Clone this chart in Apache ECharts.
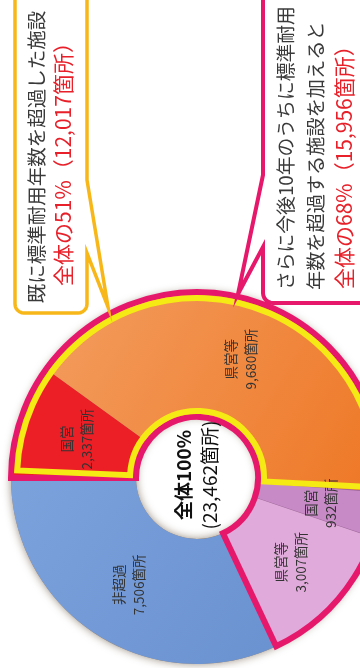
<!DOCTYPE html>
<html>
<head>
<meta charset="utf-8">
<script src="https://cdn.jsdelivr.net/npm/echarts@6/dist/echarts.min.js"></script>
<style>
html,body{margin:0;padding:0;background:#ffffff;}
#c{width:360px;height:668px;}
</style>
</head>
<body>
<div id="c"></div>
<script>
// ---- data ----
const categories = ['国営', '県営等', '国営', '県営等', '非超過'];
const values = [2337, 9680, 932, 3007, 7506];
const groups = ['超過済', '超過済', '10年以内に超過', '10年以内に超過', '非超過'];
const centerLines = ['全体100%', '(23,462箇所)'];
const leftNote = ['既に標準耐用年数を超過した施設', '全体の51%（12,017箇所）'];
const rightNote = ['さらに今後10年のうちに標準耐用', '年数を超過する施設を加えると', '全体の68%（15,956箇所）'];

// ---- styles ----
const FONT = "'Noto Sans CJK JP','Noto Sans CJK SC',sans-serif";
const sliceColors = [
  '#EC1F26',
  {type:'linear',x:0,y:0,x2:1,y2:1,colorStops:[{offset:0,color:'#F39D5F'},{offset:1,color:'#EE7725'}]},
  '#C78AC6',
  '#E0ABDA',
  {type:'linear',x:0,y:0,x2:1,y2:1,colorStops:[{offset:0,color:'#7CA2DC'},{offset:1,color:'#6A92D0'}]}
];
const PINK = '#E6186C', YELLOW = '#F5EA14', ORANGE_LINE = '#F8B719', RED_TXT = '#E8202A', DARK_TXT = '#3A3A3A';
const C = [197, 478];
const R = [61, 186];

const total = values.reduce((a, b) => a + b, 0);
const exceeded = values.filter((v, i) => groups[i] === '超過済').reduce((a, b) => a + b, 0);
const within10 = values.filter((v, i) => groups[i] !== '非超過').reduce((a, b) => a + b, 0);
const fmt = v => v.toLocaleString('en-US');

// yellow outline inset
const insetStart = 2.4, insetEnd = 1.4;
const exAngle = exceeded / total * 360;
const yFirst = total * (exAngle - insetStart - insetEnd) / 360;

const NONE = 'rgba(0,0,0,0)';

function arc(cx, cy, r, a0, a1, n) {
  const pts = [];
  for (let i = 0; i <= n; i++) {
    const a = a0 + (a1 - a0) * i / n;
    pts.push([cx + r * Math.cos(a), cy + r * Math.sin(a)]);
  }
  return pts;
}
const P = Math.PI;
const leftBox = [[15, -10], [15, 304]]
  .concat(arc(24, 304, 9, P, P / 2, 6))
  .concat([[78, 313]])
  .concat(arc(78, 304, 9, P / 2, 0, 6))
  .concat([[87, 253], [108, 307], [87, 180], [87, -10]]);
const rightBox = [[263, -10], [263, 175], [238, 294], [263, 247], [263, 293]]
  .concat(arc(273, 293, 10, P, P / 2, 6))
  .concat([[372, 303], [372, -10]]);

function vtext(x, y, text, size, color, align, weight) {
  return {
    type: 'text', x: x, y: y, rotation: Math.PI / 2, z: 50,
    style: {
      text: text, fill: color,
      font: (weight || 'normal') + ' ' + size + 'px ' + FONT,
      textAlign: align, align: align,
      textVerticalAlign: 'middle', verticalAlign: 'middle'
    }
  };
}

const chart = echarts.init(document.getElementById('c'), null, {renderer: 'canvas'});
chart.setOption({
  animation: false,
  backgroundColor: '#ffffff',
  series: [
    { // shadow underlay
      type: 'pie', center: C, radius: R, silent: true, z: 1,
      label: {show: false}, labelLine: {show: false}, emphasis: {disabled: true},
      data: [{value: total, itemStyle: {color: '#a08060', shadowBlur: 9, shadowColor: 'rgba(70,45,20,0.55)'}}]
    },
    { // main donut
      type: 'pie', center: C, radius: R, startAngle: 180, clockwise: true, silent: true, z: 2,
      avoidLabelOverlap: false,
      data: values.map((v, i) => ({
        name: categories[i], value: v,
        itemStyle: {color: sliceColors[i], borderWidth: i === 2 ? 0.8 : 0, borderColor: '#9A62A0'}
      })),
      label: {
        show: true, position: 'inside', rotate: 90,
        formatter: p => p.name + '\n' + fmt(p.value) + '箇所',
        fontSize: 13.5, lineHeight: 20, color: '#333333', fontFamily: FONT
      },
      labelLine: {show: false}, emphasis: {disabled: true}
    },
    { // pink outline: exceeded within 10 years
      type: 'pie', center: C, radius: R, startAngle: 180, clockwise: true, silent: true, z: 3,
      label: {show: false}, labelLine: {show: false}, emphasis: {disabled: true},
      data: [
        {value: within10, itemStyle: {color: NONE, borderColor: PINK, borderWidth: 6, borderJoin: 'miter'}},
        {value: total - within10, itemStyle: {color: NONE, borderWidth: 0}}
      ]
    },
    { // yellow outline: already exceeded
      type: 'pie', center: C, radius: [R[0] + 6, R[1] - 6], startAngle: 180 - insetStart, clockwise: true, silent: true, z: 4,
      label: {show: false}, labelLine: {show: false}, emphasis: {disabled: true},
      data: [
        {value: yFirst, itemStyle: {color: NONE, borderColor: YELLOW, borderWidth: 6, borderJoin: 'miter'}},
        {value: total - yFirst, itemStyle: {color: NONE, borderWidth: 0}}
      ]
    }
  ],
  graphic: [
    {type: 'polygon', z: 40, shape: {points: leftBox}, style: {fill: '#ffffff', stroke: ORANGE_LINE, lineWidth: 3.5, lineJoin: 'miter'}},
    {type: 'polygon', z: 40, shape: {points: rightBox}, style: {fill: '#ffffff', stroke: PINK, lineWidth: 4, lineJoin: 'miter'}},
    vtext(37, 157, leftNote[0], 19.5, DARK_TXT, 'center'),
    vtext(63, 159, leftNote[1], 21, RED_TXT, 'center'),
    vtext(286, 290, rightNote[0], 18.8, DARK_TXT, 'left'),
    vtext(316, 290, rightNote[1], 19.2, DARK_TXT, 'left'),
    vtext(344, 289, rightNote[2], 21, RED_TXT, 'left'),
    vtext(184, 475, centerLines[0], 19, '#111111', 'center', 'bold'),
    vtext(210, 475, centerLines[1], 19, '#111111', 'center')
  ]
});
</script>
</body>
</html>
